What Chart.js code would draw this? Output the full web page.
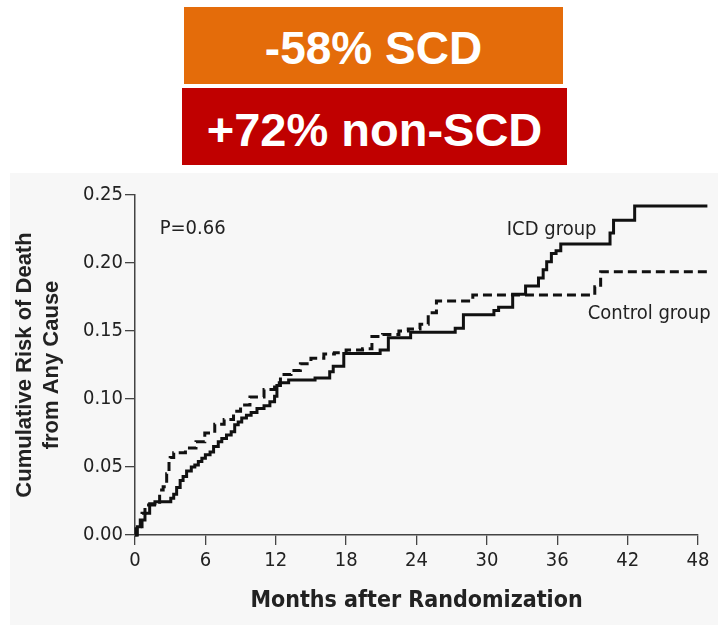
<!DOCTYPE html>
<html>
<head>
<meta charset="utf-8">
<script src="https://cdn.jsdelivr.net/npm/chart.js@4"></script>
<style>
  body { margin: 0; background: #fff; }
  .badge {
    position: absolute;
    color: #fff;
    font-family: 'Liberation Sans', Arial, sans-serif;
    font-weight: bold;
    text-align: center;
    white-space: nowrap;
  }
  #scd { left: 184px; top: 7px; width: 379px; height: 77px; line-height: 82px; font-size: 46px; background: #e46c0a; }
  #nonscd { left: 182px; top: 88px; width: 385px; height: 77px; line-height: 84px; font-size: 47px; background: #c00000; }
  #panel { position: absolute; left: 10px; top: 173px; width: 708px; height: 452px; background: #f7f7f7; }
</style>
</head>
<body>
<div class="badge" id="scd">-58% SCD</div>
<div class="badge" id="nonscd">+72% non-SCD</div>
<div id="panel"><canvas id="kmChart"></canvas></div>
<script>
// Kaplan-Meier steps: month at which the cumulative risk jumps to the given value
const icdMonths = [0, 0.2, 0.45, 0.85, 1.25, 1.7, 3.05, 3.3, 3.55, 3.85, 4.1, 4.4, 4.8, 5.1, 5.4, 5.7, 6.0, 6.4, 6.7, 7.1,
  7.4, 7.8, 8.2, 8.5, 8.8, 9.1, 9.5, 9.9, 10.4, 11.0, 11.5, 11.9, 12.1, 12.3, 13.1, 15.35, 16.6, 16.9, 17.8, 20.9,
  21.6, 23.5, 27.3, 28.0, 30.6, 31.0, 32.2, 33.3, 34.4, 34.8, 35.1, 35.5, 35.9, 36.3, 40.5, 40.8, 42.6, 48.8];
const icdRisk = [0, 0.006, 0.011, 0.016, 0.023, 0.0245, 0.027, 0.030, 0.035, 0.040, 0.043, 0.047, 0.050, 0.0515, 0.054, 0.0565, 0.059, 0.061, 0.065, 0.0685,
  0.071, 0.0735, 0.076, 0.081, 0.083, 0.086, 0.088, 0.090, 0.093, 0.095, 0.098, 0.102, 0.110, 0.112, 0.114, 0.1155, 0.120, 0.124, 0.1335, 0.136,
  0.145, 0.149, 0.152, 0.162, 0.165, 0.1675, 0.177, 0.183, 0.189, 0.195, 0.201, 0.207, 0.209, 0.214, 0.222, 0.2315, 0.242, 0.242];

const controlMonths = [0, 0.1, 0.6, 0.85, 2.1, 2.4, 2.7, 2.9, 3.0, 3.3, 4.3, 5.2, 5.95, 6.8, 7.6, 8.4, 9.0, 9.8, 11.0, 11.9,
  12.4, 13.3, 14.1, 15.0, 16.1, 17.0, 18.0, 19.4, 20.2, 21.1, 22.5, 23.3, 24.3, 25.0, 25.7, 28.8, 39.2, 39.7, 48.8];
const controlRisk = [0, 0.006, 0.016, 0.022, 0.033, 0.0355, 0.045, 0.055, 0.057, 0.0605, 0.064, 0.0685, 0.075, 0.0815, 0.085, 0.091, 0.0955, 0.1015, 0.107, 0.110,
  0.118, 0.121, 0.126, 0.130, 0.133, 0.134, 0.136, 0.137, 0.146, 0.1475, 0.150, 0.1515, 0.155, 0.1635, 0.172, 0.1765, 0.1825, 0.1935, 0.1935];

const monthTicks = [0, 6, 12, 18, 24, 30, 36, 42, 48];
const riskTicks = [0, 0.05, 0.10, 0.15, 0.20, 0.25];

// text labels placed in data units (left edge, baseline)
const notes = [
  { text: 'P=0.66', month: 2.1, risk: 0.2215 },
  { text: 'ICD group', month: 31.7, risk: 0.2205 },
  { text: 'Control group', month: 38.6, risk: 0.159 }
];

const toPoints = (xs, ys) => xs.map((x, i) => ({ x: x, y: ys[i] }));

const ink = '#222';
const axisColor = '#444';
const tickFont = { family: "'DejaVu Sans Condensed', 'DejaVu Sans', sans-serif", size: 20 };

const notesPlugin = {
  id: 'notes',
  afterDatasetsDraw(chart) {
    const { ctx, scales: { x, y } } = chart;
    ctx.save();
    ctx.fillStyle = ink;
    ctx.font = "20px 'DejaVu Sans Condensed', 'DejaVu Sans', sans-serif";
    ctx.textAlign = 'left';
    ctx.textBaseline = 'alphabetic';
    notes.forEach(n => ctx.fillText(n.text, x.getPixelForValue(n.month), y.getPixelForValue(n.risk)));
    ctx.restore();
  }
};

new Chart(document.getElementById('kmChart'), {
  type: 'line',
  data: {
    datasets: [{
      label: 'ICD group',
      data: toPoints(icdMonths, icdRisk),
      borderColor: '#111',
      borderWidth: 3,
      stepped: true,
      pointRadius: 0,
      clip: false
    }, {
      label: 'Control group',
      data: toPoints(controlMonths, controlRisk),
      borderColor: '#111',
      borderWidth: 3,
      borderDash: [9, 5],
      stepped: true,
      pointRadius: 0,
      clip: false
    }]
  },
  options: {
    responsive: true,
    maintainAspectRatio: false,
    animation: false,
    layout: { padding: { top: 22, right: 20, left: 0, bottom: 0 } },
    plugins: {
      legend: { display: false },
      tooltip: { enabled: false }
    },
    scales: {
      x: {
        type: 'linear',
        min: 0,
        max: 48,
        afterBuildTicks: s => { s.ticks = monthTicks.map(v => ({ value: v })); },
        afterFit: s => { s.height = 90; },
        ticks: { color: ink, font: tickFont, padding: 4, maxRotation: 0 },
        grid: { drawOnChartArea: false, drawTicks: true, tickLength: 10, color: axisColor, lineWidth: 1.3 },
        border: { color: axisColor, width: 1.5 },
        title: {
          display: true,
          text: 'Months after Randomization',
          color: ink,
          font: { family: "'Liberation Sans Narrow', 'DejaVu Sans Condensed', sans-serif", size: 23, weight: 'bold' },
          padding: { top: 0, bottom: 10 }
        }
      },
      y: {
        min: 0,
        max: 0.25,
        afterBuildTicks: s => { s.ticks = riskTicks.map(v => ({ value: v })); },
        afterFit: s => { s.width = 125; },
        ticks: { color: ink, font: tickFont, padding: 2, callback: v => v.toFixed(2) },
        grid: { drawOnChartArea: false, drawTicks: true, tickLength: 10, color: axisColor, lineWidth: 1.3 },
        border: { color: axisColor, width: 1.5 },
        title: {
          display: true,
          text: ['Cumulative Risk of Death', 'from Any Cause'],
          color: ink,
          font: { family: "'Liberation Sans', Arial, sans-serif", size: 22, weight: 'bold', lineHeight: 1.2 },
          padding: { top: 2, bottom: 0 }
        }
      }
    }
  },
  plugins: [notesPlugin]
});
</script>
</body>
</html>
